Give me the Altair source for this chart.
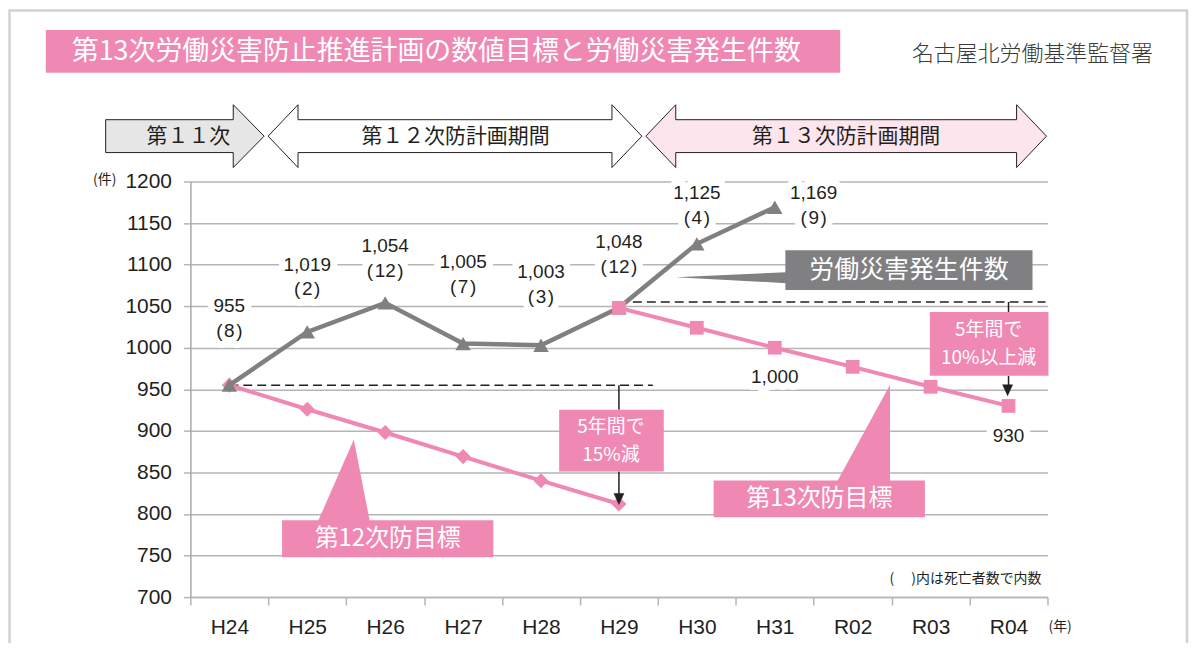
import altair as alt
import pandas as pd

# ---------------- data ----------------
years = ["H24", "H25", "H26", "H27", "H28", "H29", "H30", "H31", "R02", "R03", "R04"]
actual_years = ["H24", "H25", "H26", "H27", "H28", "H29", "H30", "H31"]
actual_cases = [955, 1019, 1054, 1005, 1003, 1048, 1125, 1169]
actual_deaths = [8, 2, 12, 7, 3, 12, 4, 9]
target12_years = ["H24", "H25", "H26", "H27", "H28", "H29"]
target12 = [955, 926, 898, 869, 840, 812]
target13_years = ["H29", "H30", "H31", "R02", "R03", "R04"]
target13 = [1048, 1024, 1000, 977, 953, 930]
y_ticks = [700, 750, 800, 850, 900, 950, 1000, 1050, 1100, 1150, 1200]

title_text = "第13次労働災害防止推進計画の数値目標と労働災害発生件数"
source_text = "名古屋北労働基準監督署"
period_labels = ["第１１次", "第１２次防計画期間", "第１３次防計画期間"]

# ---------------- layout (not data) ----------------
# vertical level (in axis units) of the first line of each actual-count label
label_level = [1050, 1100, 1122, 1103, 1091, 1127, 1186, 1186]
t13_label_years = ["H31", "R04"]
t13_label_level = [965, 894]

OX, OY = 191, 181           # page position of plot origin
W, H = 860, 417

PINK = "#f088b4"
PINK_LIGHT = "#fde5ee"
GRAYLINE = "#808080"
GRAYBOX = "#808082"
GRID = "#b5b5b5"
TXT = "#231f20"
NUM_FONT = "Liberation Sans Narrow, Arial Narrow, Liberation Sans, sans-serif"
JP_FONT = "Noto Sans CJK JP"

one = pd.DataFrame({"k": [0]})

x_scale = alt.Scale(type="band", domain=years, paddingInner=0, paddingOuter=0)
y_scale = alt.Scale(domain=[700, 1200], nice=False, zero=False)
x_axis = alt.Axis(title=None, labelAngle=0, tickBand="extent", ticks=True, tickSize=8,
                  tickColor=GRID, tickWidth=1.5, domainColor=GRID, domainWidth=1.5,
                  labelFont=NUM_FONT, labelFontSize=21, labelColor=TXT, labelPadding=12,
                  grid=False)
y_axis = alt.Axis(title=None, values=y_ticks, format="d", grid=True, gridColor=GRID, gridWidth=1.5,
                  tickColor=GRID, tickSize=7, tickWidth=1.5, domainColor="#a8a8a8",
                  domainWidth=1.5, labelFont=NUM_FONT, labelFontSize=21, labelColor=TXT,
                  labelPadding=12)

X = alt.X("year:N", scale=x_scale, axis=x_axis)
Y = alt.Y("value:Q", scale=y_scale, axis=y_axis)


def px(v):
    return alt.value(v - OX)


def py(v):
    return alt.value(v - OY)


def rect(x1, y1, x2, y2, **kw):
    return alt.Chart(one).mark_rect(**kw).encode(x=px(x1), x2=px(x2), y=py(y1), y2=py(y2))


def text(x, y, s, **kw):
    return alt.Chart(one).mark_text(text=s, **kw).encode(x=px(x), y=py(y))


def shape(points, **kw):
    path = "M" + " L".join(f"{a - OX:.1f},{b - OY:.1f}" for a, b in points) + " Z"
    return alt.Chart(one).mark_point(shape=path, size=4, filled=True, opacity=1, **kw).encode(
        x=alt.value(0), y=alt.value(0))


layers = []

# frame
layers.append(rect(9.5, 9.5, 1191, 700, fill="transparent", stroke="#d2d2d2", strokeWidth=2.5))

# title and source
layers.append(rect(46, 29, 843, 72, fill=PINK))
layers.append(text(72, 51, title_text, align="left", baseline="middle", font=JP_FONT,
                   fontSize=27, color="white"))
layers.append(text(915, 53, source_text, align="left", baseline="middle", font=JP_FONT,
                   fontSize=22, color="#3a3a3a", fontWeight=300))

# period arrows
layers.append(shape([(106, 119), (234, 119), (234, 104), (265, 135.5), (234, 167), (234, 152), (106, 152)],
                    fill="#e6e6e7", stroke=TXT, strokeWidth=1))
layers.append(shape([(269, 135.5), (299, 104), (299, 119), (614, 119), (614, 104), (644, 135.5),
                     (614, 167), (614, 152), (299, 152), (299, 167)],
                    fill="white", stroke=TXT, strokeWidth=1))
layers.append(shape([(648, 135.5), (678, 104), (678, 119), (1020, 119), (1020, 104), (1050, 135.5),
                     (1020, 167), (1020, 152), (678, 152), (678, 167)],
                    fill=PINK_LIGHT, stroke=TXT, strokeWidth=1))
layers.append(text(189, 136, period_labels[0], font=JP_FONT, fontSize=21, color=TXT, baseline="middle"))
layers.append(text(457, 136, period_labels[1], font=JP_FONT, fontSize=21, color=TXT, baseline="middle"))
layers.append(text(849, 136, period_labels[2], font=JP_FONT, fontSize=21, color=TXT, baseline="middle"))

# data frames
df_act = pd.DataFrame({"year": actual_years, "value": actual_cases})
df_t12 = pd.DataFrame({"year": target12_years, "value": target12})
df_t13 = pd.DataFrame({"year": target13_years, "value": target13})
df_lab = pd.DataFrame({"year": actual_years, "value": label_level,
                       "cases": actual_cases, "deaths": actual_deaths})
df_t13lab = pd.DataFrame({"year": t13_label_years, "value": t13_label_level,
                          "target": [target13[target13_years.index(y)] for y in t13_label_years]})

lab_expr = "[format(datum.cases, ','), '(\u200a' + datum.deaths + '\u200a)']"

lab_base = alt.Chart(df_lab).transform_calculate(txt=lab_expr)
lab_main = lab_base.transform_filter("datum.year != 'H31'")
lab_h31 = lab_base.transform_filter("datum.year == 'H31'")
t13lab = alt.Chart(df_t13lab).transform_calculate(txt="format(datum.target, ',')")

halo = dict(font=NUM_FONT, fontSize=19, lineHeight=25, baseline="middle",
            stroke="white", strokeWidth=14, strokeJoin="round", fill="white")
norm = dict(font=NUM_FONT, fontSize=19, lineHeight=25, baseline="middle", color=TXT)

# the first layer carrying the axes
layers.append(alt.Chart(df_act).mark_point(opacity=0).encode(x=X, y=Y))

# label halos (break gridlines)
layers.append(lab_main.mark_text(**halo).encode(x=X, y=Y, text="txt:N"))
layers.append(lab_h31.mark_text(dx=39, **halo).encode(x=X, y=Y, text="txt:N"))
layers.append(t13lab.mark_text(**halo).encode(x=X, y=Y, text="txt:N"))

# dashed reference lines
layers.append(alt.Chart(one).mark_rule(color=TXT, strokeWidth=1.5, strokeDash=[9, 5]).encode(
    x=alt.datum("H24", scale=x_scale), x2=px(655), y=alt.datum(955)))
layers.append(alt.Chart(one).mark_rule(color=TXT, strokeWidth=1.5, strokeDash=[9, 5]).encode(
    x=alt.datum("H29", scale=x_scale), x2=px(1049), y=alt.datum(1055)))

# connectors
layers.append(alt.Chart(one).mark_rule(color=TXT, strokeWidth=1.5).encode(
    x=alt.datum("H29", scale=x_scale), y=alt.datum(955), y2=py(410)))
layers.append(alt.Chart(one).mark_rule(color=TXT, strokeWidth=1.5).encode(
    x=alt.datum("H29", scale=x_scale), y=py(472), y2=py(496)))
layers.append(alt.Chart(one).mark_rule(color=TXT, strokeWidth=1.5).encode(
    x=alt.datum("R04", scale=x_scale), y=alt.datum(1055), y2=py(312)))
layers.append(alt.Chart(one).mark_rule(color=TXT, strokeWidth=1.5).encode(
    x=alt.datum("R04", scale=x_scale), y=py(376), y2=py(387)))

# series
layers.append(alt.Chart(df_t12).mark_line(color=PINK, strokeWidth=4).encode(x=X, y=Y))
layers.append(alt.Chart(df_t12).mark_point(shape="diamond", size=230, filled=True, opacity=1,
                                          color=PINK).encode(x=X, y=Y))
layers.append(alt.Chart(df_act).mark_line(color=GRAYLINE, strokeWidth=4.5).encode(x=X, y=Y))
layers.append(alt.Chart(df_act).mark_point(shape="triangle-up", size=240, filled=True, opacity=1,
                                          color=GRAYLINE).encode(x=X, y=Y))
layers.append(alt.Chart(df_t13).mark_line(color=PINK, strokeWidth=4).encode(x=X, y=Y))
layers.append(alt.Chart(df_t13).mark_point(shape="square", size=190, filled=True, opacity=1,
                                          color=PINK).encode(x=X, y=Y))

# arrowheads
layers.append(shape([(616, 494), (626, 494), (621, 505)], fill=TXT, stroke=TXT, strokeWidth=0.5))
layers.append(shape([(1006, 385), (1016, 385), (1011, 396)], fill=TXT, stroke=TXT, strokeWidth=0.5))

# callout boxes
layers.append(shape([(678, 277), (789, 272), (789, 283)], fill=GRAYBOX))
layers.append(rect(788, 250, 1036, 290, fill=GRAYBOX))
layers.append(text(912, 270, "労働災害発生件数", font=JP_FONT, fontSize=25, color="white", baseline="middle"))

layers.append(shape([(355, 440), (319, 522), (371, 522)], fill=PINK))
layers.append(rect(283, 521, 495, 558, fill=PINK))
layers.append(text(389, 540, "第12次防目標", font=JP_FONT, fontSize=24, color="white", baseline="middle"))

layers.append(shape([(893, 385), (840, 482), (893, 482)], fill=PINK))
layers.append(rect(716, 481, 928, 518, fill=PINK))
layers.append(text(822, 500, "第13次防目標", font=JP_FONT, fontSize=24, color="white", baseline="middle"))

layers.append(rect(561, 410, 666, 472, fill=PINK))
layers.append(text(613, 427, "5年間で", font=JP_FONT, fontSize=19, color="white", baseline="middle"))
layers.append(text(613, 455, "15%減", font=JP_FONT, fontSize=19, color="white", baseline="middle"))
layers.append(rect(933, 312, 1052, 376, fill=PINK))
layers.append(text(992, 330, "5年間で", font=JP_FONT, fontSize=19, color="white", baseline="middle"))
layers.append(text(992, 358, "10%以上減", font=JP_FONT, fontSize=19, color="white", baseline="middle"))

# labels
layers.append(lab_main.mark_text(**norm).encode(x=X, y=Y, text="txt:N"))
layers.append(lab_h31.mark_text(dx=39, **norm).encode(x=X, y=Y, text="txt:N"))
layers.append(t13lab.mark_text(**norm).encode(x=X, y=Y, text="txt:N"))

# small texts
layers.append(text(105, 180, "(件)", font=JP_FONT, fontSize=14, color=TXT, baseline="middle"))
layers.append(text(1052, 628, "(年)", font=JP_FONT, fontSize=14, color=TXT, baseline="middle",
                   align="left"))
layers.append(text(1045, 580, "(　 )内は死亡者数で内数", font=JP_FONT, fontSize=14, color=TXT,
                   baseline="middle", align="right"))

chart = alt.layer(*layers).properties(
    width=W, height=H,
    autosize=alt.AutoSizeParams(type="none"),
    padding={"left": OX - 8, "top": OY - 8, "right": 142, "bottom": 45},
    background="white",
).configure_view(stroke=None)

chart.save("out.html", embed_options={"renderer": "svg", "actions": False})
